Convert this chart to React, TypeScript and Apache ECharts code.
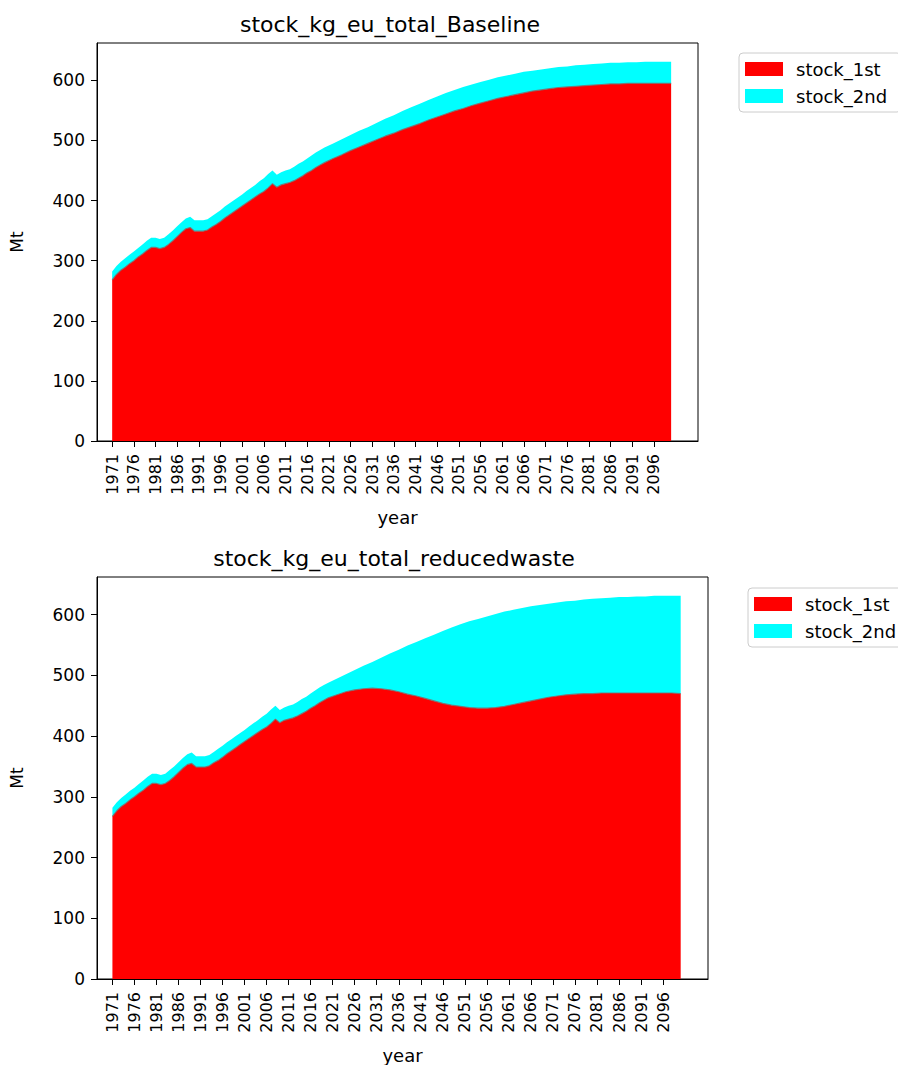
import React, { useEffect, useRef } from "react";
import * as echarts from "echarts";

const FONT = "DejaVu Sans";

// Historic years (annual) and future years (every 2 years)
const histYears = [
  1971, 1972, 1973, 1974, 1975, 1976, 1977, 1978, 1979, 1980,
  1981, 1982, 1983, 1984, 1985, 1986, 1987, 1988, 1989, 1990,
  1991, 1992, 1993, 1994, 1995, 1996, 1997, 1998, 1999, 2000,
  2001, 2002, 2003, 2004, 2005, 2006, 2007, 2008, 2009, 2010,
  2011, 2012, 2013, 2014, 2015, 2016, 2017, 2018, 2019, 2020,
];
const futureYears = [
  2022, 2024, 2026, 2028, 2030, 2032, 2034, 2036, 2038, 2040,
  2042, 2044, 2046, 2048, 2050, 2052, 2054, 2056, 2058, 2060,
  2062, 2064, 2066, 2068, 2070, 2072, 2074, 2076, 2078, 2080,
  2082, 2084, 2086, 2088, 2090, 2092, 2094, 2096, 2098, 2100,
];

// stock_1st (top edge of the red area), historic part shared by both scenarios
const histFirst = [
  268, 277, 284, 289, 295, 300, 306, 311, 317, 322,
  322, 320, 322, 327, 333, 340, 347, 353, 355, 349,
  349, 349, 351, 356, 360, 365, 371, 376, 381, 386,
  391, 396, 401, 406, 411, 415, 421, 428, 422, 426,
  428, 430, 433, 437, 441, 446, 450, 455, 459, 463,
];
// total stock (top edge of the cyan area), historic part
const histTotal = [
  282, 291, 298, 304, 310, 315, 321, 327, 333, 338,
  338, 336, 338, 344, 350, 357, 364, 370, 373, 367,
  367, 367, 369, 374, 379, 384, 390, 395, 400, 405,
  410, 416, 421, 426, 432, 437, 444, 450, 443, 447,
  450, 452, 456, 461, 465, 470, 475, 480, 484, 488,
];

const baselineFirstFuture = [
  470, 476, 483, 489, 495, 501, 507, 512, 518, 523,
  528, 534, 539, 544, 549, 553, 558, 562, 566, 570,
  573, 576, 579, 582, 584, 586, 588, 589, 590, 591,
  592, 593, 594, 594, 595, 595, 595, 595, 595, 595,
];
const totalFuture = [
  495, 502, 509, 516, 522, 529, 536, 542, 549, 555,
  561, 567, 573, 579, 584, 589, 593, 597, 601, 605,
  608, 611, 614, 616, 618, 620, 622, 623, 625, 626,
  627, 628, 629, 629, 630, 630, 631, 631, 631, 631,
];
const reducedFirstFuture = [
  468, 473, 476, 478, 479, 478, 476, 473, 469, 466,
  462, 458, 454, 451, 449, 447, 446, 446, 447, 449,
  452, 455, 458, 461, 464, 466, 468, 469, 470, 470,
  471, 471, 471, 471, 471, 471, 471, 471, 471, 470,
];

const tickYears = [
  1971, 1976, 1981, 1986, 1991, 1996, 2001, 2006, 2011, 2016, 2021, 2026, 2031,
  2036, 2041, 2046, 2051, 2056, 2061, 2066, 2071, 2076, 2081, 2086, 2091, 2096,
];
const yTicks = [0, 100, 200, 300, 400, 500, 600];

const seriesNames = ["stock_1st", "stock_2nd"];
const titles = ["stock_kg_eu_total_Baseline", "stock_kg_eu_total_reducedwaste"];

const years = [...histYears, ...futureYears];
const total = [...histTotal, ...totalFuture];
const scenarioFirst = [
  [...histFirst, ...baselineFirstFuture],
  [...histFirst, ...reducedFirstFuture],
];

const grids = [
  { left: 97, top: 43, width: 601, height: 398 },
  { left: 97, top: 577, width: 611, height: 404 },
];

export default function App() {
  const ref = useRef<HTMLDivElement>(null);

  useEffect(() => {
    if (!ref.current) return;
    const chart = echarts.init(ref.current, undefined, { renderer: "svg" });

    const txt = { color: "#000", fontFamily: FONT };

    const xAxes = grids.map((_, i) => ({
      type: "value",
      gridIndex: i,
      min: 1967.5,
      max: 2106.2,
      axisLine: { onZero: false, lineStyle: { color: "#000", width: 1 } },
      axisTick: { length: 6, lineStyle: { color: "#000" }, customValues: tickYears },
      axisLabel: {
        ...txt,
        rotate: 90,
        margin: 13,
        fontSize: 16,
        customValues: tickYears,
        formatter: (v: number) => String(v),
      },
      splitLine: { show: false },
      name: "year",
      nameLocation: "middle",
      nameGap: 67,
      nameTextStyle: { ...txt, fontSize: 18 },
    }));

    const yAxes = grids.map((_, i) => ({
      type: "value",
      gridIndex: i,
      min: 0,
      max: 662,
      axisLine: { show: true, lineStyle: { color: "#000", width: 1 } },
      axisTick: { show: true, length: 6, lineStyle: { color: "#000" }, customValues: yTicks },
      axisLabel: { ...txt, fontSize: 17, margin: 12, customValues: yTicks },
      splitLine: { show: false },
      name: "Mt",
      nameLocation: "middle",
      nameGap: 72,
      nameTextStyle: { ...txt, fontSize: 17 },
    }));

    // data rows are [value, year] so that the stack acts on the value dimension
    const series: any[] = [];
    grids.forEach((_, i) => {
      const first = scenarioFirst[i];
      const second = total.map((t, k) => t - first[k]);
      series.push({
        name: seriesNames[0],
        type: "line",
        xAxisIndex: i,
        yAxisIndex: i,
        stack: "s" + i,
        encode: { x: 1, y: 0 },
        symbol: "none",
        showSymbol: false,
        lineStyle: { color: "rgba(120,110,110,0.85)", width: 1.2 },
        itemStyle: { color: "#ff0000" },
        areaStyle: { color: "#ff0000", opacity: 1 },
        data: years.map((y, k) => [first[k], y]),
        z: 3,
      });
      series.push({
        name: seriesNames[1],
        type: "line",
        xAxisIndex: i,
        yAxisIndex: i,
        stack: "s" + i,
        encode: { x: 1, y: 0 },
        symbol: "none",
        showSymbol: false,
        lineStyle: { width: 0, color: "#00ffff" },
        itemStyle: { color: "#00ffff" },
        areaStyle: { color: "#00ffff", opacity: 1 },
        data: years.map((y, k) => [second[k], y]),
        z: 2,
      });
    });

    const legendPos = [
      { left: 739, top: 53 },
      { left: 748, top: 588 },
    ];

    chart.setOption({
      animation: false,
      backgroundColor: "#fff",
      grid: grids.map((g) => ({
        ...g,
        show: true,
        borderColor: "#000",
        borderWidth: 1,
        backgroundColor: "transparent",
        containLabel: false,
      })),
      xAxis: xAxes,
      yAxis: yAxes,
      legend: legendPos.map((p) => ({
        ...p,
        orient: "vertical",
        data: seriesNames,
        icon: "rect",
        itemWidth: 38,
        itemHeight: 14,
        itemGap: 9,
        padding: [7, 14, 7, 6],
        borderColor: "#cccccc",
        borderWidth: 1,
        borderRadius: 4,
        backgroundColor: "#fff",
        selectedMode: false,
        textStyle: { ...txt, fontSize: 18, padding: [0, 0, 0, 8] },
      })),
      graphic: titles.map((t, i) => ({
        type: "text",
        x: i === 0 ? 390 : 394,
        y: i === 0 ? 24 : 558,
        style: {
          text: t,
          fill: "#000",
          font: `22px "${FONT}"`,
          textAlign: "center",
          textVerticalAlign: "middle",
        },
      })),
      series,
    });

    return () => chart.dispose();
  }, []);

  return (
    <div
      ref={ref}
      style={{ position: "absolute", left: 0, top: 0, width: 898, height: 1065 }}
    />
  );
}
